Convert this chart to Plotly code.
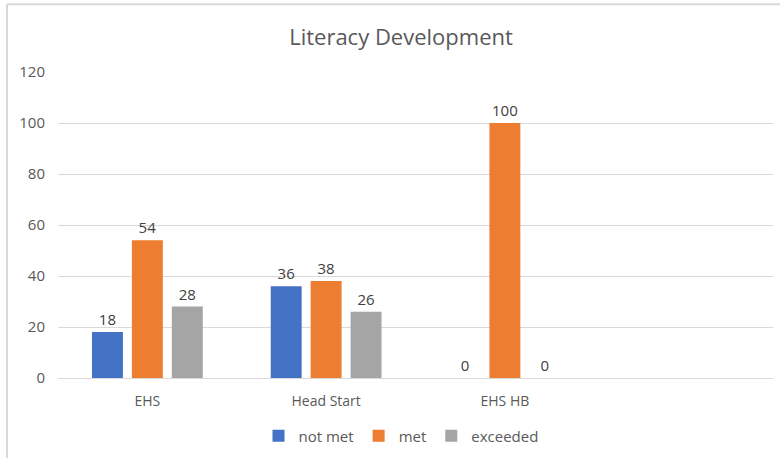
import plotly.graph_objects as go

categories = ["EHS", "Head Start", "EHS HB", " "]
series_names = ["not met", "met", "exceeded"]
not_met = [18, 36, 0, None]
met = [54, 38, 100, None]
exceeded = [28, 26, 0, None]
colors = ["#4472C4", "#ED7D31", "#A5A5A5"]
y_ticks = [0, 20, 40, 60, 80, 100, 120]

W, H = 780, 458
L, R, T, B = 58, 7, 72, 79
pw, ph = W - L - R, H - T - B

fig = go.Figure()
for name, vals, col in zip(series_names, [not_met, met, exceeded], colors):
    fig.add_trace(go.Bar(
        name=name, x=categories, y=vals,
        marker=dict(color=col, line=dict(width=0)),
        text=[("" if v is None else str(v)) for v in vals],
        textposition="outside", cliponaxis=False,
        textfont=dict(family="Open Sans", size=15, color="#404040"),
    ))

def px_x(p):
    return (p - L) / pw

def px_y(p):
    return (H - B - p) / ph

fig.update_layout(
    width=W, height=H,
    margin=dict(l=L, r=R, t=T, b=B),
    paper_bgcolor="white", plot_bgcolor="white",
    barmode="group", bargap=0.33, bargroupgap=0.225,
    title=dict(text="Literacy Development", x=401 / W, xanchor="center",
               y=1 - 37 / H, yanchor="middle",
               font=dict(family="Open Sans", size=22, color="#595959")),
    font=dict(family="Open Sans", size=15, color="#595959"),
    showlegend=True,
    legend=dict(orientation="h", x=px_x(401), xanchor="center",
                y=px_y(436), yanchor="middle",
                font=dict(family="Open Sans", size=15, color="#595959"),
                itemwidth=30, bgcolor="rgba(0,0,0,0)"),
    xaxis=dict(showgrid=False, showline=True, linecolor="#D9D9D9", linewidth=1,
               ticks="", ticklabelstandoff=10,
               tickfont=dict(family="Open Sans", size=14, color="#595959")),
    yaxis=dict(range=[0, 120], tickvals=y_ticks, showgrid=True, gridcolor="#D9D9D9",
               gridwidth=1, zeroline=False, showline=False, ticks="",
               ticklabelstandoff=12,
               tickfont=dict(family="Open Sans", size=15, color="#595959")),
    shapes=[
        dict(type="line", xref="paper", yref="paper", x0=px_x(7), x1=px_x(7),
             y0=px_y(4), y1=px_y(H + 5), line=dict(color="#D9D9D9", width=2)),
        dict(type="line", xref="paper", yref="paper", x0=px_x(7), x1=px_x(W + 5),
             y0=px_y(4), y1=px_y(4), line=dict(color="#D9D9D9", width=2)),
    ],
)

fig.write_html("out.html", config={"displayModeBar": False},
               post_script="document.body.style.margin='0';")
